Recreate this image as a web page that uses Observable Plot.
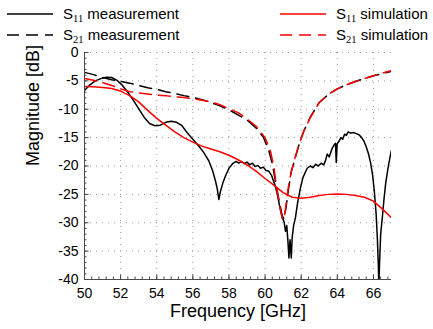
<!DOCTYPE html>
<html><head><meta charset="utf-8">
<script src="https://cdn.jsdelivr.net/npm/d3@7"></script>
<script src="https://cdn.jsdelivr.net/npm/@observablehq/plot@0.6"></script>
<style>
body{margin:0;background:#fff;font-family:"Liberation Sans",Arial,sans-serif;}
#wrap{position:relative;width:433px;height:329px;overflow:hidden}
#legend{position:relative;height:44px;width:433px;}
.item{position:absolute;font-size:15px;line-height:18px;color:#000;white-space:nowrap}
.item svg{position:absolute;top:0;}
.item span.t{position:absolute;top:0;}
sub{font-family:"Liberation Serif","Times New Roman",serif;font-size:10.5px;vertical-align:-3px;line-height:0}
#chart svg{display:block}
</style></head><body>
<div id="wrap"><div id="legend"></div><div id="chart"></div></div>
<script>
// ---- data ----
const s11MeasF = [50.0,50.3,50.6,50.9,51.2,51.5,51.8,52.1,52.4,52.7,53.0,53.3,53.6,53.9,54.2,54.5,54.8,55.1,55.4,55.7,56.0,56.3,56.6,56.9,57.1,57.25,57.35,57.44,57.52,57.65,57.8,58.0,58.2,58.4,58.55,58.7,58.85,59.0,59.15,59.3,59.45,59.6,59.75,59.9,60.05,60.2,60.35,60.45,60.55,60.67,60.8,60.95,61.05,61.13,61.2,61.27,61.32,61.38,61.45,61.5,61.58,61.68,61.8,61.96,62.1,62.33,62.5,62.65,62.8,62.95,63.1,63.25,63.35,63.44,63.55,63.7,63.8,63.9,63.94,63.99,64.1,64.2,64.3,64.4,64.5,64.6,64.75,64.9,65.05,65.2,65.35,65.47,65.6,65.72,65.84,65.95,66.05,66.15,66.22,66.27,66.3,66.34,66.4,66.48,66.58,66.68,66.8,66.92,67.0];
const s11MeasDb = [-6.7,-5.7,-5.0,-4.6,-4.35,-4.4,-4.9,-5.8,-7.0,-8.4,-9.9,-11.4,-12.5,-12.9,-12.8,-12.3,-12.1,-12.3,-12.9,-14.2,-15.3,-16.4,-17.6,-19.2,-20.9,-22.6,-24.0,-25.9,-24.6,-23.1,-21.8,-20.4,-19.6,-19.2,-19.5,-19.2,-19.6,-19.3,-19.8,-19.5,-20.1,-19.9,-20.4,-20.2,-20.8,-20.9,-21.6,-22.5,-23.4,-24.8,-27.0,-29.1,-29.8,-31.5,-30.5,-33.5,-36.2,-33.0,-36.2,-32.6,-30.5,-29.1,-26.5,-23.8,-22.0,-20.4,-20.0,-20.3,-19.7,-20.0,-19.5,-19.8,-19.0,-17.9,-18.4,-17.0,-16.4,-16.0,-19.4,-16.1,-15.6,-15.0,-15.3,-14.4,-14.6,-14.0,-14.2,-14.1,-14.3,-14.5,-15.0,-15.6,-16.6,-17.8,-19.4,-21.5,-24.5,-28.5,-33.0,-37.5,-41.0,-37.0,-32.0,-29.5,-26.0,-23.0,-20.5,-18.4,-17.2];

const s21MeasF = [50.0,50.5,51.0,51.5,52.0,52.5,53.0,53.5,54.0,54.5,55.0,55.5,56.0,56.5,57.0,57.5,58.0,58.5,59.0,59.5,59.9,60.2,60.4,60.6,60.8,60.95,61.05,61.15,61.3,61.45,61.65,61.9,62.15,62.5,63.0,63.5,64.0,64.5,65.0,65.5,66.0,66.5,67.0];
const s21MeasDb = [-3.5,-3.9,-4.4,-4.8,-5.1,-5.4,-5.8,-6.2,-6.5,-6.9,-7.2,-7.6,-7.9,-8.3,-8.8,-9.4,-10.1,-11.0,-11.9,-13.3,-14.9,-17.2,-19.6,-23.2,-26.5,-28.8,-29.3,-27.5,-24.0,-21.0,-18.8,-16.0,-13.8,-11.4,-8.8,-7.4,-6.4,-5.7,-5.1,-4.6,-4.1,-3.7,-3.3];

const s11SimF = [50.0,50.5,51.0,51.5,52.0,52.5,53.0,53.5,54.0,54.5,55.0,55.5,56.0,56.5,57.0,57.5,58.0,58.5,59.0,59.5,60.0,60.5,61.0,61.5,62.0,62.5,63.0,63.5,64.0,64.5,65.0,65.5,66.0,66.5,67.0];
const s11SimDb = [-6.0,-6.05,-6.15,-6.35,-6.8,-7.6,-8.7,-10.2,-11.6,-12.8,-14.0,-15.0,-15.8,-16.5,-17.0,-17.5,-18.1,-18.9,-19.8,-20.9,-22.2,-23.4,-24.7,-25.5,-25.7,-25.5,-25.2,-25.0,-24.95,-25.0,-25.2,-25.5,-26.2,-27.6,-29.1];

const s21SimF = [50.0,50.5,51.0,51.5,52.0,52.5,53.0,53.5,54.0,54.5,55.0,55.5,56.0,56.5,57.0,57.5,58.0,58.5,59.0,59.5,60.0,60.3,60.5,60.65,60.8,60.95,61.05,61.15,61.3,61.45,61.65,61.9,62.15,62.5,63.0,63.5,64.0,64.5,65.0,65.5,66.0,66.5,67.0];
const s21SimDb = [-4.6,-4.9,-5.3,-5.8,-6.4,-6.9,-7.1,-7.3,-7.5,-7.6,-7.8,-7.95,-8.15,-8.4,-8.7,-9.2,-9.9,-10.6,-11.7,-13.0,-15.0,-17.4,-20.5,-24.0,-27.0,-29.2,-29.4,-27.0,-23.5,-21.0,-18.6,-16.0,-13.8,-11.5,-8.8,-7.4,-6.4,-5.7,-5.1,-4.6,-4.1,-3.6,-3.2];

const xTicks = [50,52,54,56,58,60,62,64,66];
const yTicks = [0,-5,-10,-15,-20,-25,-30,-35,-40];
const seriesNames = ["measurement","simulation"];
const xLabel = "Frequency [GHz]";
const yLabel = "Magnitude [dB]";

// ---- build ----
const toRows = (F, D) => F.map((f, i) => ({f, db: D[i]}));
const s11Meas = toRows(s11MeasF, s11MeasDb);
const s21Meas = toRows(s21MeasF, s21MeasDb);
const s11Sim = toRows(s11SimF, s11SimDb);
const s21Sim = toRows(s21SimF, s21SimDb);

const xMinor = d3.range(0, 43).map(i => +(50 + i * 0.4).toFixed(2)).filter(v => v <= 67);
const yMinor = d3.range(-40, 1);

const pxPerDb = (329 - 44 - 8 - 50) / 40;
const pxPerGHz = (433 - 84 - 42) / 17;
const axisColor = "#4a4a4a";
const gridStyle = {stroke: "#9a9a9a", strokeOpacity: 1, strokeDasharray: "1,5"};
const dash = "12,7";

const chart = Plot.plot({
  width: 433, height: 285,
  marginTop: 8, marginBottom: 50, marginLeft: 84, marginRight: 42,
  x: {domain: [50, 67]},
  y: {domain: [-40, 0]},
  style: {fontFamily: "'Liberation Sans', Arial, sans-serif", fontSize: "14px", color: "#000", background: "#fff"},
  marks: [
    Plot.gridX(xTicks.filter(v => v > 50), gridStyle),
    Plot.gridY(yTicks.filter(v => v > -40), gridStyle),
    Plot.line(s11Meas, {x: "f", y: "db", stroke: "#000", strokeWidth: 1.5, clip: true}),
    Plot.line(s21Meas, {x: "f", y: "db", stroke: "#000", strokeWidth: 1.5, strokeDasharray: dash, clip: true}),
    Plot.line(s11Sim, {x: "f", y: "db", stroke: "#ff0000", strokeWidth: 1.5, clip: true}),
    Plot.line(s21Sim, {x: "f", y: "db", stroke: "#ff0000", strokeWidth: 1.5, strokeDasharray: dash, clip: true}),
    // axis lines
    Plot.ruleX([50], {stroke: axisColor}),
    Plot.ruleY([-40], {stroke: axisColor}),
    // inward ticks
    Plot.ruleX(xMinor, {x: d => d, y1: -40, y2: -40 + 2.5 / pxPerDb, stroke: axisColor}),
    Plot.ruleX(xTicks, {x: d => d, y1: -40, y2: -40 + 4.5 / pxPerDb, stroke: axisColor}),
    Plot.ruleY(yMinor, {y: d => d, x1: 50, x2: 50 + 2.5 / pxPerGHz, stroke: axisColor}),
    Plot.ruleY(yTicks, {y: d => d, x1: 50, x2: 50 + 4.5 / pxPerGHz, stroke: axisColor}),
    Plot.axisX({ticks: xTicks, tickSize: 0, tickPadding: 9, tickFormat: d => String(d), label: null, fontSize: 14}),
    Plot.axisY({ticks: yTicks, tickSize: 0, tickPadding: 6, tickFormat: d => String(d), label: null, fontSize: 14}),
    Plot.text([xLabel], {frameAnchor: "bottom", dy: 37, fontSize: 18, fill: "#000"}),
    Plot.text([yLabel], {frameAnchor: "left", dx: -51, rotate: -90, fontSize: 18, fill: "#000"})
  ]
});
document.getElementById("chart").appendChild(chart);

// ---- legend ----
const legendItems = [
  {sub: "11", name: seriesNames[0], color: "#000", dashed: false, x: 7, y: 14},
  {sub: "21", name: seriesNames[0], color: "#000", dashed: true, x: 7, y: 35},
  {sub: "11", name: seriesNames[1], color: "#ff0000", dashed: false, x: 280, y: 14},
  {sub: "21", name: seriesNames[1], color: "#ff0000", dashed: true, x: 280, y: 35}
];
const legend = document.getElementById("legend");
for (const it of legendItems) {
  const div = document.createElement("div");
  div.className = "item";
  div.style.left = it.x + "px";
  div.style.top = (it.y - 9) + "px";
  div.innerHTML = `<svg width="46" height="18"><line x1="0" y1="9" x2="46" y2="9" stroke="${it.color}" stroke-width="1.5" ${it.dashed ? `stroke-dasharray="${dash}"` : ""}/></svg><span class="t" style="left:56px">S<sub>${it.sub}</sub> ${it.name}</span>`;
  legend.appendChild(div);
}
</script>
</body></html>
